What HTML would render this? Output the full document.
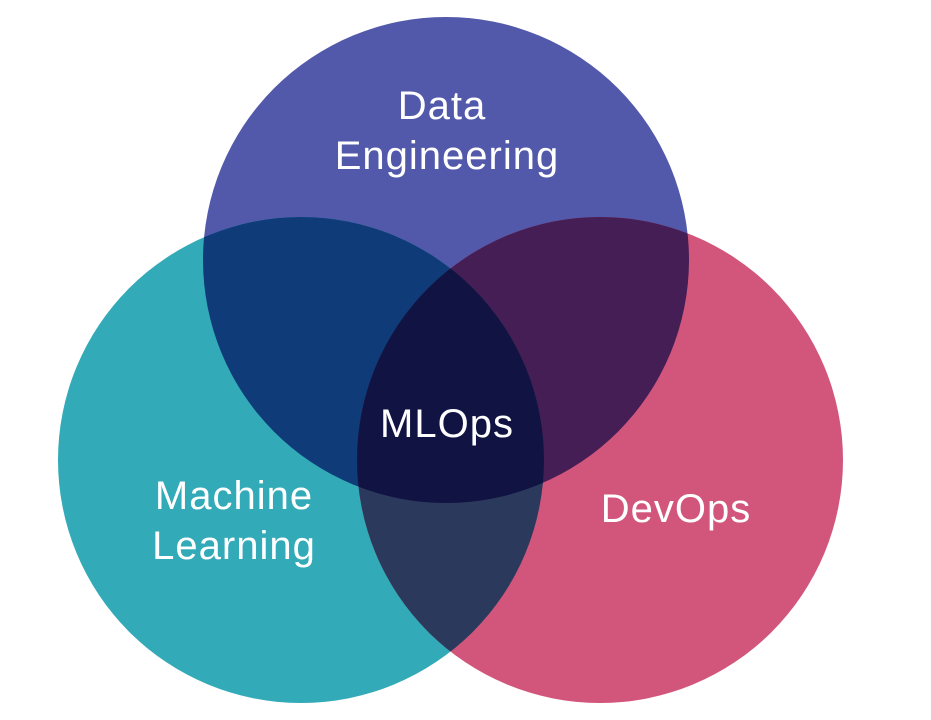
<!DOCTYPE html>
<html><head><style>
html,body{margin:0;padding:0;background:#fff;}
svg{display:block;}
text{font-family:"Liberation Sans",sans-serif;fill:#fff;font-size:40px;letter-spacing:1px;text-anchor:middle;}
</style></head><body>
<svg width="931" height="720" viewBox="0 0 931 720">
<defs>
<clipPath id="cT"><circle cx="446" cy="260" r="243"/></clipPath>
<clipPath id="cL"><circle cx="301" cy="460" r="243"/></clipPath>
<clipPath id="cR"><circle cx="600" cy="460" r="243"/></clipPath>
</defs>
<circle cx="446" cy="260" r="243" fill="#5259aa"/>
<circle cx="301" cy="460" r="243" fill="#33aab8"/>
<circle cx="600" cy="460" r="243" fill="#d2567b"/>
<g clip-path="url(#cT)"><circle cx="301" cy="460" r="243" fill="#0f3b78"/><circle cx="600" cy="460" r="243" fill="#441e55"/></g>
<g clip-path="url(#cL)"><circle cx="600" cy="460" r="243" fill="#2b3a5c"/></g>
<g clip-path="url(#cL)"><g clip-path="url(#cR)"><circle cx="446" cy="260" r="243" fill="#111442"/></g></g>
<text x="442" y="119">Data</text>
<text x="447" y="169">Engineering</text>
<text x="447" y="437">MLOps</text>
<text x="234" y="509">Machine</text>
<text x="234" y="559">Learning</text>
<text x="676" y="522">DevOps</text>
</svg>
</body></html>
